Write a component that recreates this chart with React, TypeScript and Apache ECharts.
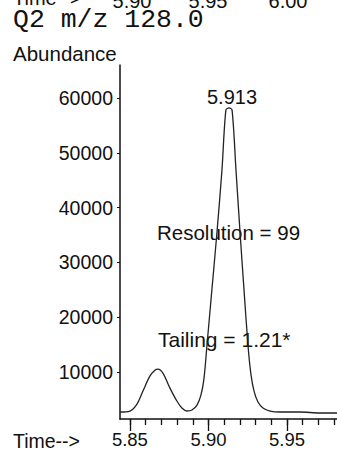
import React, { useEffect, useRef } from "react";
import * as echarts from "echarts";

// Time (min) and abundance
const times: number[] = [
  5.8437, 5.85, 5.8545, 5.8583, 5.8627, 5.8659, 5.8678, 5.871, 5.8755, 5.8799,
  5.8831, 5.8863, 5.8895, 5.8927, 5.8952, 5.8971, 5.899, 5.9022, 5.9054, 5.9086,
  5.9111, 5.9131, 5.915, 5.9175, 5.9201, 5.9226, 5.9252, 5.9271, 5.929, 5.9315,
  5.9347, 5.9392, 5.9455, 5.9583, 5.971, 5.9818,
];
const abundance: number[] = [
  2730, 2910, 4180, 6550, 9270, 10360, 10550, 9820, 7090, 4730,
  3450, 2910, 3090, 4000, 5820, 8730, 14730, 25090, 35450, 46910,
  57820, 58180, 57820, 46910, 35450, 25090, 14730, 9450, 6550, 4550,
  3450, 2910, 2730, 2730, 2550, 2550,
];
const yTickValues: number[] = [10000, 20000, 30000, 40000, 50000, 60000];
const xMajorTicks: number[] = [5.85, 5.9, 5.95];
const xMinorTicks: number[] = [5.85, 5.86, 5.87, 5.88, 5.89, 5.9, 5.91, 5.92, 5.93, 5.94, 5.95, 5.96, 5.97, 5.98];
const xRange: number[] = [5.8437, 5.9818];
const yRange: number[] = [1455, 66000];
const peakLabel = "5.913";
const titleText = "Q2 m/z 128.0";
const yAxisTitle = "Abundance";
const xAxisTitle = "Time-->";
const resolutionText = "Resolution = 99";
const tailingText = "Tailing = 1.21*";
const prevAxisLabels: string[] = ["5.90", "5.95", "6.00"];

const SANS = "'Liberation Sans', Arial, sans-serif";
const MONO = "'Liberation Mono', 'Courier New', monospace";

export default function App() {
  const ref = useRef<HTMLDivElement>(null);
  useEffect(() => {
    if (!ref.current) return;
    const chart = echarts.init(ref.current, null, { renderer: "svg" });
    const data = times.map((t, i) => [t, abundance[i]]);
    const prevX = [132, 208, 288];
    chart.setOption({
      animation: false,
      backgroundColor: "#ffffff",
      grid: { left: 120, right: 0, top: 65, bottom: 31, containLabel: false, outerBoundsMode: "none" },
      xAxis: [
        {
          type: "value",
          min: xRange[0],
          max: xRange[1],
          position: "bottom",
          axisLine: { show: true, onZero: false, lineStyle: { color: "#111", width: 1.5 } },
          axisTick: { show: true, length: 6, customValues: xMinorTicks, lineStyle: { color: "#111", width: 1.3 } },
          axisLabel: {
            show: true,
            customValues: xMajorTicks,
            formatter: (v: number) => v.toFixed(2),
            fontFamily: SANS,
            fontSize: 18.5,
            color: "#111",
            margin: 11,
          },
          splitLine: { show: false },
        },
        {
          type: "value",
          min: xRange[0],
          max: xRange[1],
          position: "bottom",
          offset: 0,
          axisLine: { show: false, onZero: false },
          axisTick: { show: true, length: 12, customValues: xMajorTicks, lineStyle: { color: "#111", width: 1.3 } },
          axisLabel: { show: false },
          splitLine: { show: false },
        },
      ],
      yAxis: {
        type: "value",
        min: yRange[0],
        max: yRange[1],
        axisLine: { show: true, onZero: false, lineStyle: { color: "#111", width: 1.5 } },
        axisTick: { show: true, length: 3, customValues: yTickValues, lineStyle: { color: "#111" } },
        axisLabel: {
          customValues: yTickValues,
          formatter: (v: number) => String(v),
          fontFamily: SANS,
          fontSize: 19.5,
          color: "#111",
          margin: 7,
        },
        splitLine: { show: false },
      },
      series: [
        {
          type: "line",
          data,
          smooth: 0.3,
          symbol: "none",
          lineStyle: { color: "#222", width: 1.3 },
          xAxisIndex: 0,
        },
      ],
      graphic: [
        {
          type: "text",
          left: 13,
          top: -12,
          style: { text: xAxisTitle, font: `20px ${SANS}`, fill: "#111" },
        },
        ...prevAxisLabels.map((s, i) => ({
          type: "text",
          x: prevX[i],
          y: 1,
          style: { text: s, font: `20px ${SANS}`, fill: "#111", textAlign: "center", textVerticalAlign: "middle" },
        })),
        {
          type: "text",
          x: 13,
          y: 21,
          scaleX: 1.06,
          style: { text: titleText, font: `25px ${MONO}`, fill: "#111", textVerticalAlign: "middle" },
        },
        {
          type: "text",
          x: 13,
          y: 53,
          style: { text: yAxisTitle, font: `20.5px ${SANS}`, fill: "#111", textVerticalAlign: "middle" },
        },
        {
          type: "text",
          x: 232,
          y: 97,
          style: { text: peakLabel, font: `20px ${SANS}`, fill: "#111", textAlign: "center", textVerticalAlign: "middle" },
        },
        {
          type: "text",
          x: 157,
          y: 232,
          style: { text: resolutionText, font: `20.5px ${SANS}`, fill: "#111", textVerticalAlign: "middle" },
        },
        {
          type: "text",
          x: 158,
          y: 339,
          style: { text: tailingText, font: `21px ${SANS}`, fill: "#111", textVerticalAlign: "middle" },
        },
        {
          type: "text",
          x: 13,
          y: 441,
          style: { text: xAxisTitle, font: `19.5px ${SANS}`, fill: "#111", textVerticalAlign: "middle" },
        },
      ],
    });
    return () => chart.dispose();
  }, []);
  return (
    <div
      ref={ref}
      style={{ position: "absolute", left: 0, top: 0, width: 337, height: 450, background: "#fff" }}
    />
  );
}
